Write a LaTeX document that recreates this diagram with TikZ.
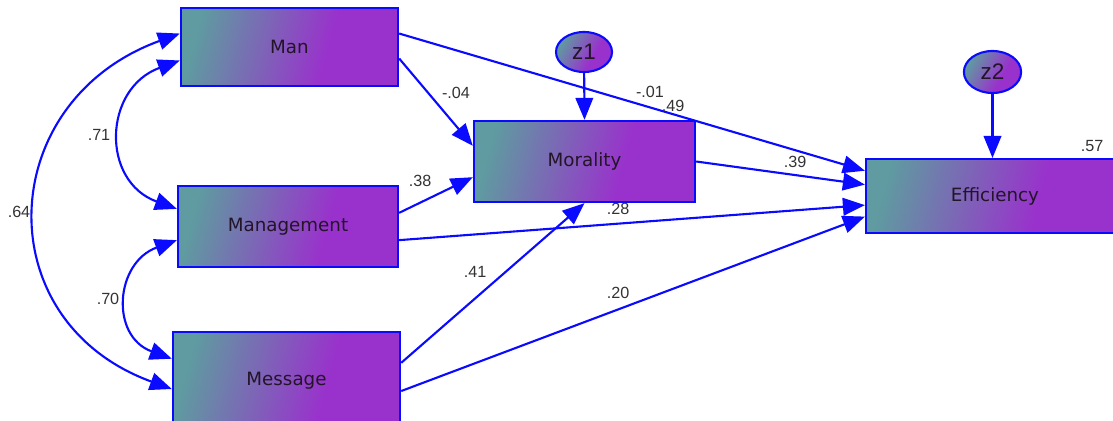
\documentclass[tikz,border=0pt]{standalone}
\usepackage{fontspec}
\setmainfont{Liberation Sans}
\newfontfamily\boxfont{DejaVu Sans}
\usetikzlibrary{arrows.meta, shapes.geometric}

\definecolor{semteal}{RGB}{95,155,160}
\definecolor{sempurple}{RGB}{153,50,204}
\definecolor{semblue}{RGB}{10,10,255}
\definecolor{semtext}{RGB}{35,20,40}
\pgfdeclareverticalshading{semshade}{100bp}{color(0bp)=(sempurple); color(25bp)=(sempurple);
  color(40bp)=(sempurple); color(75bp)=(semteal); color(100bp)=(semteal)}

\begin{document}
\begin{tikzpicture}
        [x=0.025cm, y=0.025cm,
        var/.style={rectangle, draw=semblue, line width=1.5pt, shading=semshade, shading angle=75,
          text=semtext, font=\boxfont\fontsize{13}{15}\selectfont, inner sep=0pt},
        err/.style={ellipse, draw=semblue, line width=1.5pt, shading=semshade, shading angle=60,
          text=semtext, font=\fontsize{16}{18}\selectfont, minimum width=1.4cm, minimum height=1cm, inner sep=0pt},
        arr/.style={-{Triangle[length=5.5mm,width=4.4mm]}, draw=semblue, line width=1.5pt},
        cov/.style={{Triangle[length=5.5mm,width=4.4mm]}-{Triangle[length=5.5mm,width=4.4mm]}, draw=semblue, line width=1.5pt},
        coef/.style={font=\fontsize{11.5}{13}\selectfont, text=black!80, inner sep=1pt}]
        \useasboundingbox (0,0) rectangle (1113,-421);
        \clip (0,0) rectangle (1113,-421);
        % observed variables
        \node (man) at (289.5,-47) [var, minimum width=5.43cm, minimum height=1.95cm] {Man};
        \node (mgmt) at (288,-226.5) [var, minimum width=5.5cm, minimum height=2.03cm] {Management};
        \node (msg) at (286.5,-381) [var, minimum width=5.68cm, minimum height=2.45cm] {Message};
        \node (mor) at (584.5,-161.5) [var, minimum width=5.53cm, minimum height=2.03cm] {Morality};
        \node (eff) at (995,-196) [var, minimum width=6.45cm, minimum height=1.85cm] {Efficiency};
        % residuals
        \node (z1) at (584,-52) [err] {z1};
        \node (z2) at (992.5,-72) [err, minimum width=1.43cm, minimum height=1.05cm] {z2};
        \draw[arr] (z1) -- (mor.north);
        \draw[arr] (z2) -- (z2 |- eff.north);
        % paths
        \draw[arr] (man.-6) -- (mor.172);
        \draw[arr] (man.7) -- (eff.169.5);
        \draw[arr] (mgmt.7.5) -- (mor.188);
        \draw[arr] (mgmt.-7) -- (eff.184);
        \draw[arr] (msg.9.5) -- (mor.south);
        \draw[arr] (msg.-5.5) -- (eff.189.7);
        \draw[arr] (mor.east) -- (eff.175.6);
        % covariances
        \draw[cov] (man.173) to[out=200, in=160, looseness=1.42] (msg.184.5);
        \draw[cov] (man.187) to[out=200, in=160, looseness=1.4] (mgmt.171);
        \draw[cov] (mgmt.187.5) to[out=200, in=160, looseness=1.42] (msg.169);
        % coefficients
        \node (c64) at (19,-212) [coef] {.64};
        \node (c71) at (99,-135) [coef] {.71};
        \node (c70) at (108,-299) [coef] {.70};
        \node (c04) at (456,-93) [coef] {-.04};
        \node (c01) at (650,-92) [coef] {-.01};
        \node (c49) at (673,-106) [coef] {.49};
        \node (c38) at (420,-181) [coef] {.38};
        \node (c28) at (618,-209) [coef] {.28};
        \node (c39) at (795,-162) [coef] {.39};
        \node (c57) at (1092,-146) [coef] {.57};
        \node (c41) at (475,-272) [coef] {.41};
        \node (c20) at (618,-293) [coef] {.20};
\end{tikzpicture}
\end{document}
